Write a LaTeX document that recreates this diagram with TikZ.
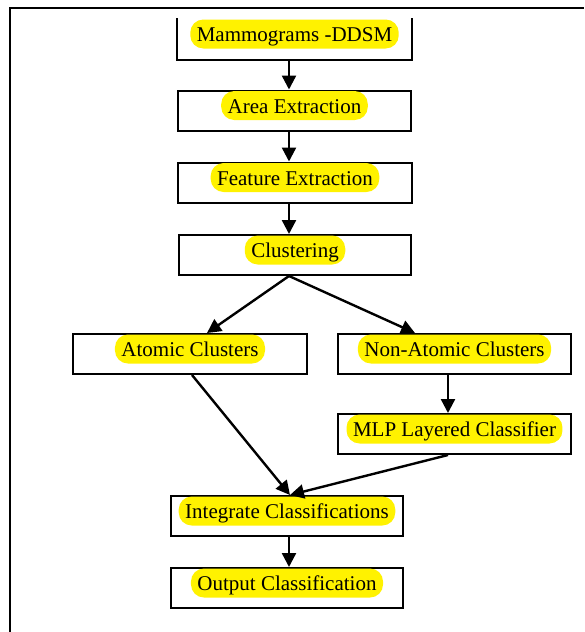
\documentclass[tikz,border=0pt]{standalone}
\usepackage{fontspec}
\setmainfont{Liberation Serif}
\newfontfamily\tnr{Liberation Serif}
\usetikzlibrary{arrows.meta}
\tikzset{
  box/.style={draw=black, line width=2pt, fill=white, inner sep=0pt, minimum height=40pt},
  hl/.style={fill=yellow, rounded corners=13pt, inner xsep=6.5pt, inner ysep=2pt,
             text height=20pt, text depth=5pt, font=\tnr\fontsize{21}{24}\selectfont},
  arr/.style={line width=2.4pt, -{Triangle[length=14pt,width=14pt]}},
  frame/.style={line width=2.6pt}
}
\begin{document}
\begin{tikzpicture}[x=1pt,y=-1pt]
\useasboundingbox (0,0) rectangle (584,632);
\fill[white] (0,0) rectangle (584,632);
\coordinate (fa) at (10,632);
\coordinate (fb) at (10,8);
\coordinate (fc) at (584,8);
\draw[frame] (fa) -- (fb) -- (fc);
\coordinate (spine) at (289,0);
% boxes
\node[box, draw=none, minimum width=233pt] (mam) at (294.5,39) {};
\draw[line width=2pt] (mam.north west) -- (mam.south west) -- (mam.south east) -- (mam.north east);
\node[box, minimum width=233pt] (area) at (294.5,110.5) {};
\node[box, minimum width=234pt] (feat) at (295,182.5) {};
\node[box, minimum width=232pt] (clus) at (295,255) {};
\node[box, minimum width=234pt] (atom) at (190,354) {};
\node[box, minimum width=233pt] (nona) at (454.5,354) {};
\node[box, minimum width=233pt] (mlp) at (454.5,434) {};
\node[box, minimum width=232pt] (integ) at (287,516) {};
\node[box, minimum width=232pt] (outp) at (287,588) {};
% texts
\node[hl] (mamt) at ([yshift=5pt]mam.center) {Mammograms -DDSM};
\node[hl] (areat) at ([yshift=5pt]area.center) {Area Extraction};
\node[hl] (featt) at ([yshift=5pt]feat.center) {Feature Extraction};
\node[hl] (clust) at ([yshift=5pt]clus.center) {Clustering};
\node[hl] (atomt) at ([yshift=5pt]atom.center) {Atomic Clusters};
\node[hl] (nonat) at ([yshift=5pt]nona.center) {Non-Atomic Clusters};
\node[hl] (mlpt) at ([yshift=5pt]mlp.center) {MLP Layered Classifier};
\node[hl] (integt) at ([yshift=5pt]integ.center) {Integrate Classifications};
\node[hl] (outpt) at ([yshift=5pt]outp.center) {Output Classification};
% connectors
\draw[arr] (mam.south -| spine) -- (area.north -| spine);
\draw[arr] (area.south -| spine) -- (feat.north -| spine);
\draw[arr] (feat.south -| spine) -- (clus.north -| spine);
\draw[arr] (clus.south -| spine) -- ([xshift=17pt]atom.north);
\draw[arr] (clus.south -| spine) -- ([xshift=-39.5pt]nona.north);
\draw[arr] ([xshift=-6.5pt]nona.south) -- ([xshift=-6.5pt]mlp.north);
\draw[arr] ([xshift=2pt]atom.south) -- ([xshift=3pt]integ.north);
\draw[arr] ([xshift=-6.5pt]mlp.south) -- ([xshift=3pt]integ.north);
\draw[arr] (integ.south -| spine) -- (outp.north -| spine);
\end{tikzpicture}
\end{document}
